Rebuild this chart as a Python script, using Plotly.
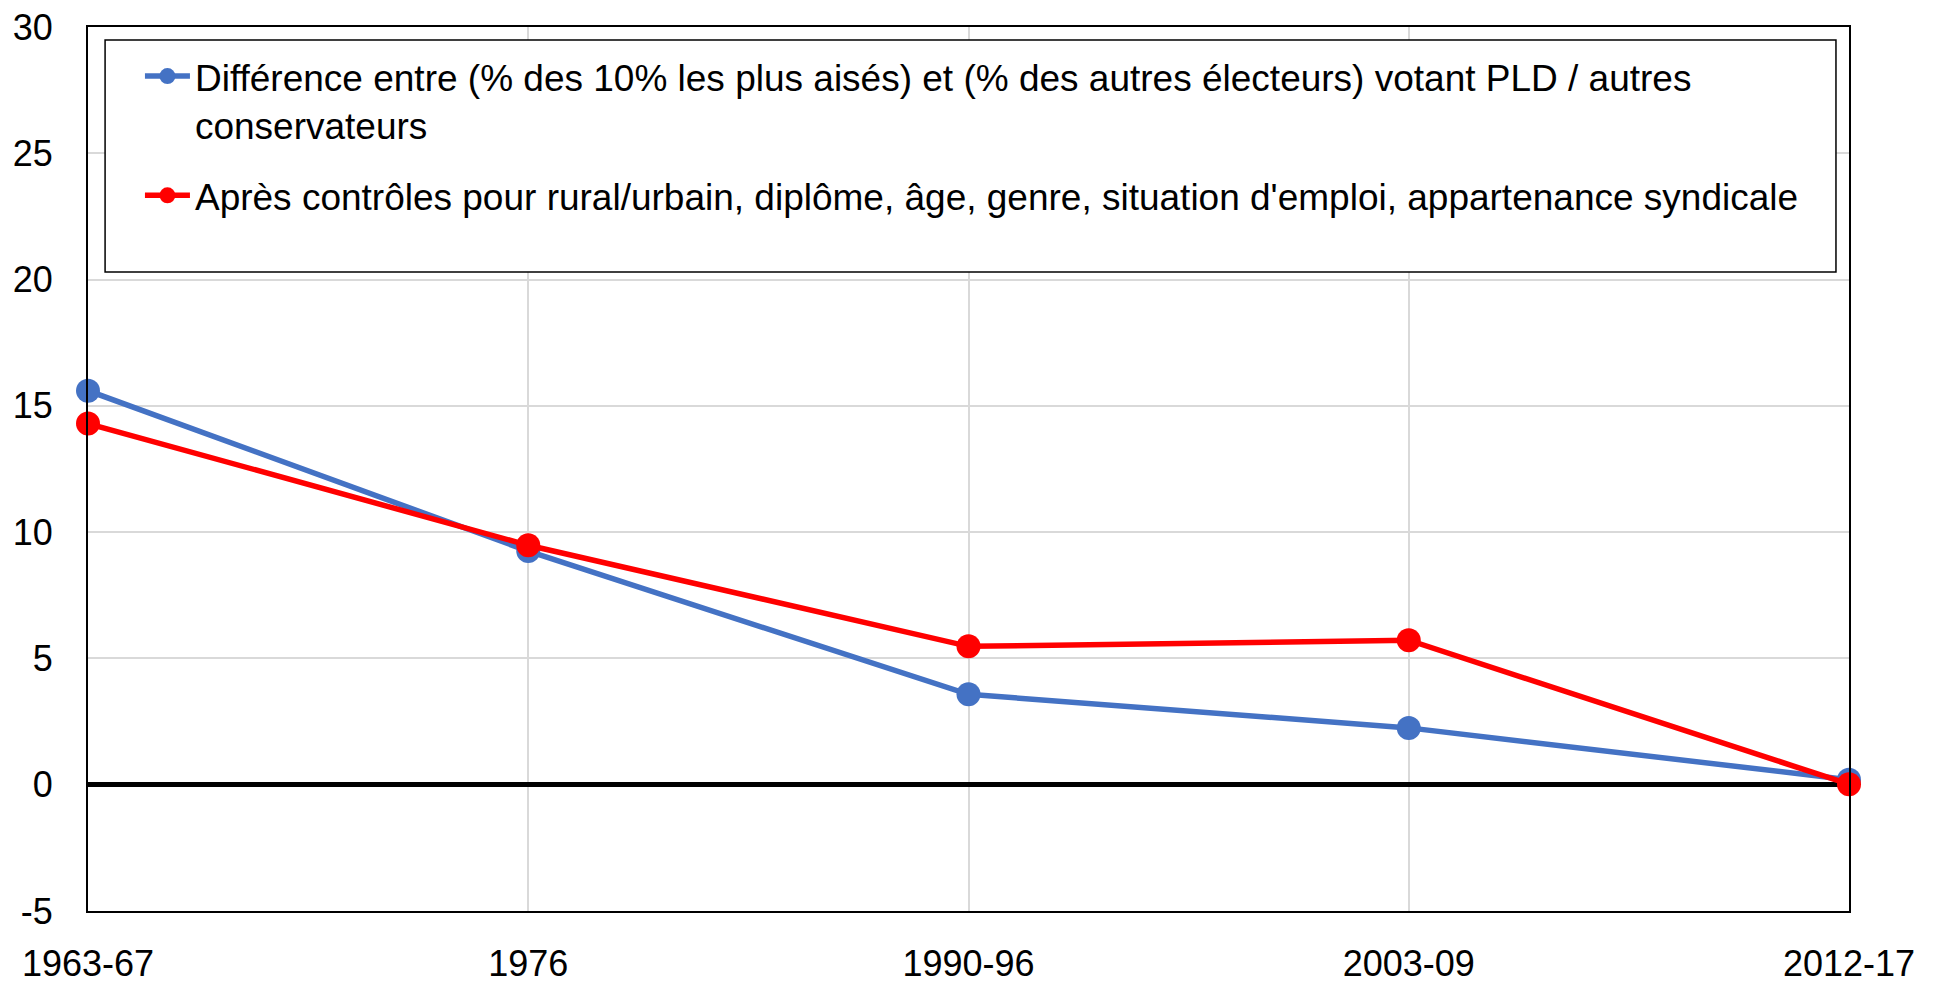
import plotly.graph_objects as go

periods = ["1963-67", "1976", "1990-96", "2003-09", "2012-17"]
diff_raw = [15.6, 9.25, 3.58, 2.25, 0.2]
diff_ctrl = [14.3, 9.48, 5.48, 5.72, 0.02]

name_raw = "Différence entre (% des 10% les plus aisés) et (% des autres électeurs) votant PLD / autres<br>conservateurs"
name_ctrl = "Après contrôles pour rural/urbain, diplôme, âge, genre, situation d'emploi, appartenance syndicale"

y_ticks = [-5, 0, 5, 10, 15, 20, 25, 30]
y_ticktext = ["-5", "0", "5", "10", "15", "20", "25", "30"]

FONT = "Arial, 'Liberation Sans', sans-serif"

fig = go.Figure()
fig.add_trace(go.Scatter(
    x=periods, y=diff_raw, name=name_raw, mode="lines+markers",
    line=dict(color="#4472C4", width=5.5),
    marker=dict(color="#4472C4", size=24),
    cliponaxis=False, legendgroup="a",
))
fig.add_trace(go.Scatter(
    x=periods, y=diff_ctrl, name=name_ctrl, mode="lines+markers",
    line=dict(color="#FF0000", width=5.5),
    marker=dict(color="#FF0000", size=24),
    cliponaxis=False, legendgroup="b",
))

# legend frame
fig.add_shape(type="rect", xref="paper", yref="paper",
              x0=0.0097, x1=0.9926, y0=0.7229, y1=0.9853,
              line=dict(color="black", width=1.5), fillcolor="white", layer="above")

fig.update_layout(
    width=1939, height=983,
    margin=dict(l=88, r=90, t=27, b=72, autoexpand=False),
    paper_bgcolor="white", plot_bgcolor="white",
    font=dict(family=FONT, size=36, color="black"),
    showlegend=True,
    legend=dict(x=0.0295, y=0.979, xanchor="left", yanchor="top",
                bgcolor="rgba(0,0,0,0)", borderwidth=0,
                font=dict(family=FONT, size=37, color="black"),
                valign="top", tracegroupgap=20, itemwidth=45),
    xaxis=dict(type="category", categoryorder="array", categoryarray=periods,
               range=[0, len(periods) - 1], automargin=False,
               showgrid=True, gridcolor="#d9d9d9", gridwidth=2,
               showline=True, linecolor="black", linewidth=2, mirror=True,
               ticks="outside", ticklen=20, tickcolor="rgba(0,0,0,0)",
               tickfont=dict(family=FONT, size=36)),
    yaxis=dict(range=[-5, 30], tickvals=y_ticks, ticktext=y_ticktext, automargin=False,
               showgrid=True, gridcolor="#d9d9d9", gridwidth=2,
               zeroline=True, zerolinecolor="black", zerolinewidth=5,
               showline=True, linecolor="black", linewidth=2, mirror=True,
               ticks="outside", ticklen=26, tickcolor="rgba(0,0,0,0)",
               tickfont=dict(family=FONT, size=36)),
)

fig.write_html("out.html", config={"displayModeBar": False},
               post_script="document.body.style.margin='0';document.body.style.overflow='hidden';")
